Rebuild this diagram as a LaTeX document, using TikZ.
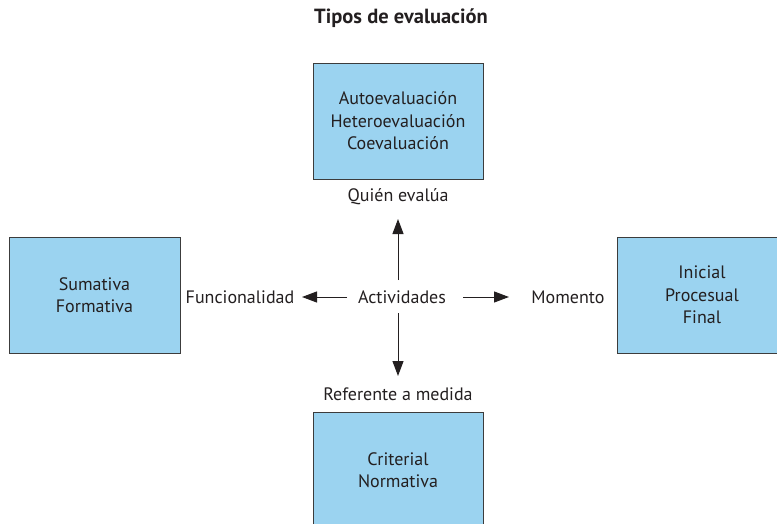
\documentclass[tikz,border=0pt]{standalone}
\usepackage{fontspec}
\setmainfont{PT Sans}
\usetikzlibrary{arrows.meta}
\definecolor{boxblue}{RGB}{155,211,240}
\definecolor{edge}{RGB}{60,60,60}
\definecolor{txt}{RGB}{35,31,32}
\begin{document}
\begin{tikzpicture}[x=1pt,y=-1pt,
  bx/.style={draw=edge,line width=0.9pt,fill=boxblue,inner sep=0pt,text=txt,font=\fontsize{18}{22.5}\selectfont,align=center},
  lbl/.style={inner sep=0pt,text=txt,font=\fontsize{18}{22}\selectfont},
  arr/.style={draw=txt,line width=1pt,-{Triangle[length=15pt,width=11pt]}}]
\useasboundingbox (0,0) rectangle (777,524);
\node[inner sep=0pt,text=txt,font=\fontsize{20.5}{24}\selectfont\bfseries] (title) at (401,18) {Tipos de evaluación};
\node[bx,minimum width=170,minimum height=116] (top) at (398,121) {Autoevaluación\\Heteroevaluación\\Coevaluación};
\node[bx,minimum width=171,minimum height=116] (left) at (94.5,295) {Sumativa\\Formativa};
\node[bx,minimum width=170,minimum height=116] (right) at (702,295) {Inicial\\Procesual\\Final};
\node[bx,minimum width=170,minimum height=116] (bottom) at (398,470) {Criterial\\Normativa};
\node[lbl] (quien) at (398,197) {Quién evalúa};
\node[lbl] (act) at (402,297) {Actividades};
\node[lbl] (func) at (240,297) {Funcionalidad};
\node[lbl] (mom) at (568,297) {Momento};
\node[lbl] (ref) at (398,394) {Referente a medida};
\coordinate (upS) at (398,280);
\coordinate (upE) at (398,219);
\coordinate (lS) at (347,297);
\coordinate (lE) at (302,297);
\coordinate (rS) at (463,297);
\coordinate (rE) at (509,297);
\coordinate (dS) at (398,313);
\coordinate (dE) at (398,376);
\draw[arr] (upS) -- (upE);
\draw[arr] (lS) -- (lE);
\draw[arr] (rS) -- (rE);
\draw[arr] (dS) -- (dE);
\end{tikzpicture}
\end{document}
